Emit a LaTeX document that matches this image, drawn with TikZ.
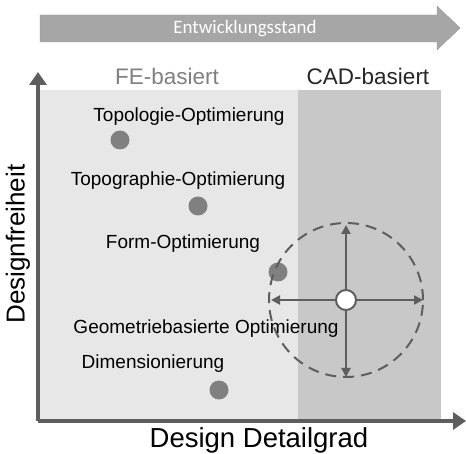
\documentclass[tikz,border=0pt]{standalone}
\usepackage{fontspec}
\setmainfont{Liberation Sans}
\newfontfamily\calibri{Carlito}
\usepackage{tikz}
\usetikzlibrary{shapes}
\usetikzlibrary{arrows.meta}
\usepackage{xcolor}
\definecolor{axisgray}{HTML}{5E5E5E}
\definecolor{feback}{HTML}{E7E7E7}
\definecolor{cadback}{HTML}{C8C8C8}
\definecolor{dotgray}{HTML}{808080}
\definecolor{bandgray}{HTML}{A6A6A6}

\begin{document}
\begin{tikzpicture}[x=1pt,y=-1pt,
  dot/.style={fill=dotgray, circle, inner sep=0pt, minimum size=19pt},
  lbl/.style={font=\fontsize{19}{21}\selectfont, text=black, inner sep=0pt},
  axis/.style={draw=axisgray, line width=3.6pt, -{Triangle[length=13pt,width=17pt]}},
  move/.style={draw=axisgray, line width=2.4pt, -{Triangle[length=9pt,width=9pt]}}
]
\useasboundingbox (0,0) rectangle (466,454);
% backgrounds
\fill[feback] (38,90) rectangle (298,420);
\fill[cadback] (298,90) rectangle (441,420);
% development band
\draw[fill=bandgray, draw=gray!80] (40,15) -- (437,15) -- (437,6) -- (460,28) -- (437,50) -- (437,42) -- (40,42) -- cycle;
\foreach \x in {41.5,43,44.5} \draw[gray!70, line width=0.5pt] (\x,15) -- (\x,42);
\node[text=white, font=\calibri\fontsize{19}{21}\selectfont] (stand) at (245,28.5) {Entwicklungsstand};
% axes
\coordinate (O) at (38,421);
\draw[axis] (O) -- (38,72);
\draw[axis] (O) -- (466,421);
\node[font=\fontsize{26}{28}\selectfont, rotate=90] (yl) at (18,244) {Designfreiheit};
\node[font=\fontsize{27.5}{30}\selectfont] (xl) at (259,440) {Design Detailgrad};
\node[font=\fontsize{22.5}{24}\selectfont, text=dotgray] (fe) at (167,76) {FE-basiert};
\node[font=\fontsize{22.5}{24}\selectfont, text=black!85] (cad) at (368,76) {CAD-basiert};
% methods
\node[lbl] (topo) at (189,117) {Topologie-Optimierung};
\node[dot] (d1) at (120,140) {};
\node[lbl] (topg) at (178,181) {Topographie-Optimierung};
\node[dot] (d2) at (198,206) {};
\node[lbl] (form) at (183,244) {Form-Optimierung};
\node[dot] (d3) at (278,272) {};
\node[lbl] (geo) at (206,329) {Geometriebasierte Optimierung};
\node[lbl] (dim) at (153,364) {Dimensionierung};
\node[dot] (d4) at (219,390) {};
% design space around the geometry based method
\node[draw=axisgray, dashed, dash pattern=on 11pt off 7pt, line width=2pt, circle, minimum size=154pt, inner sep=0pt] (space) at (346,300) {};
\coordinate (up) at (346,225);
\coordinate (down) at (346,377);
\coordinate (left) at (271,300);
\coordinate (right) at (423,300);
\node[fill=white, draw=axisgray, line width=2pt, circle, inner sep=0pt, minimum size=20pt] (geopt) at (346,300) {};
\foreach \t in {up,down,left,right}
  \draw[move] (geopt) -- (\t);
\end{tikzpicture}
\end{document}
